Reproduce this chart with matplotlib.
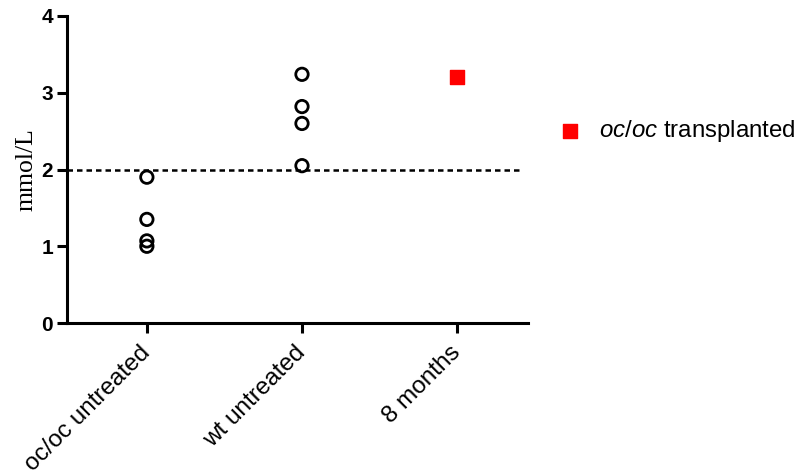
import numpy as np
import matplotlib.pyplot as plt
import matplotlib.transforms as mtransforms

plt.rcParams['font.family'] = ['Liberation Sans', 'DejaVu Sans']
plt.rcParams['mathtext.fontset'] = 'custom'
plt.rcParams['mathtext.it'] = 'Liberation Sans:italic'
plt.rcParams['mathtext.rm'] = 'Liberation Sans'

categories = ['oc/oc untreated', 'wt untreated', '8 months']
oc_untreated = [1.90, 1.35, 1.07, 1.00]
wt_untreated = [3.24, 2.82, 2.60, 2.05]
transplanted = [3.20]
threshold = 2.0

fig = plt.figure(figsize=(8.04, 4.76), dpi=100)
ax = fig.add_axes([0.0833, 0.3214, 0.574, 0.645])

ax.scatter([0] * len(oc_untreated), oc_untreated, s=80, facecolors='none',
           edgecolors='black', linewidths=2, zorder=3)
ax.scatter([1] * len(wt_untreated), wt_untreated, s=80, facecolors='none',
           edgecolors='black', linewidths=2, zorder=3)
ax.scatter([2] * len(transplanted), transplanted, s=105, marker='s', color='red',
           zorder=3, label=r'$\it{oc/oc}$ transplanted')

ax.plot([-0.515, 2.41], [threshold, threshold], 'k', linestyle=(0, (2.2, 1.6)),
        linewidth=1.8, zorder=2)

ax.set_xlim(-0.515, 2.46)
ax.set_ylim(0, 4)
ax.set_yticks([0, 1, 2, 3, 4])
ax.set_xticks(range(len(categories)))
ax.set_xticklabels(categories, rotation=45, ha='right', va='center',
                   rotation_mode='anchor', fontsize=17.5)
shift = mtransforms.ScaledTranslation(-4 / 100, 0, fig.dpi_scale_trans)
for lbl in ax.get_xticklabels():
    lbl.set_transform(lbl.get_transform() + shift)
for lbl in ax.get_yticklabels():
    lbl.set_fontweight('bold')
    lbl.set_fontsize(15)
ax.set_ylabel('mmol/L', family='Liberation Serif', fontsize=18.5, labelpad=3)

for side in ['top', 'right']:
    ax.spines[side].set_visible(False)
for side in ['left', 'bottom']:
    ax.spines[side].set_linewidth(2.2)
ax.tick_params(width=2.2, length=7, pad=3)
ax.tick_params(axis='x', pad=12)

ax.legend(loc='center left', bbox_to_anchor=(0.679, 0.725),
          bbox_transform=fig.transFigure, frameon=False, fontsize=17.3,
          handlelength=2.0, handletextpad=0.2, markerscale=0.93,
          borderaxespad=0, borderpad=0)

fig.savefig('out.png', dpi=100)
